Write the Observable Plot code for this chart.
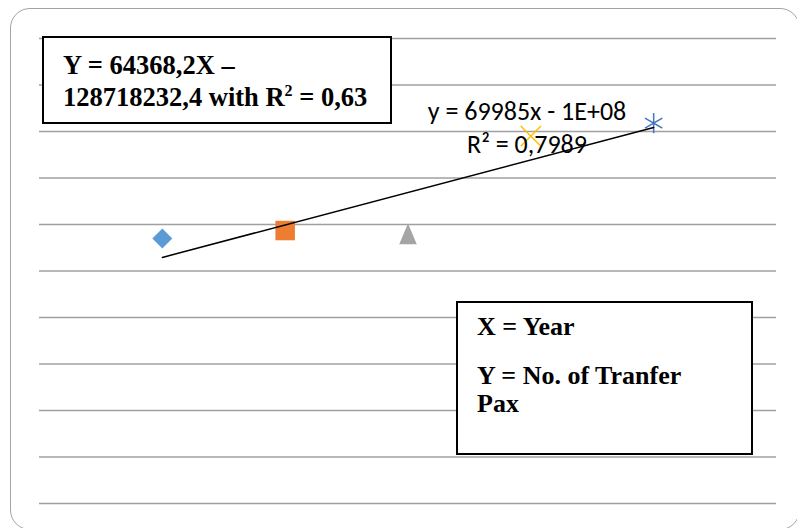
<!DOCTYPE html>
<html>
<head>
<meta charset="utf-8">
<script src="https://cdn.jsdelivr.net/npm/d3@7"></script>
<script src="https://cdn.jsdelivr.net/npm/@observablehq/plot@0.6"></script>
<style>
  html, body { margin: 0; padding: 0; background: #fff; }
  #wrap { position: relative; width: 797px; height: 528px; overflow: hidden; }
  #frame { position: absolute; left: 10px; top: 8px; width: 790px; height: 522px;
           border: 1.3px solid #a3a3a3; border-radius: 20px; box-sizing: border-box; }
  #chart { position: absolute; left: 0; top: 0; }
  .box { position: absolute; background: #fff; border: 2px solid #000; box-sizing: border-box;
         font-family: "Liberation Serif", "Times New Roman", serif; font-weight: bold; color: #000; }
  #box1 { left: 42px; top: 36px; width: 350px; height: 88px; padding: 11px 0 0 19px;
          font-size: 26.5px; line-height: 32px; white-space: nowrap; }
  #box2 { left: 456px; top: 301px; width: 297px; height: 154px; padding: 10px 0 0 19px;
          font-size: 26px; line-height: 28px; white-space: nowrap; }
  #box2 p { margin: 0; }
  #box2 p + p { margin-top: 21px; }
  .sup { font-size: 16px; position: relative; top: -10px; line-height: 0; }
  #trend { position: absolute; left: 377px; top: 95px; width: 300px; text-align: center;
           font-family: "Carlito", "Lato", "Liberation Sans", sans-serif; font-size: 26px;
           line-height: 33px; color: #000; white-space: nowrap; }
</style>
</head>
<body>
<div id="wrap">
  <div id="frame"></div>
  <div id="chart"></div>
  <div id="trend">y = 69985x - 1E+08<br>R² = 0,7989</div>
  <div class="box" id="box1">Y = 64368,2X –<br>128718232,4 with R<span class="sup">2</span> = 0,63</div>
  <div class="box" id="box2"><p>X = Year</p><p>Y = No. of Tranfer<br>Pax</p></div>
</div>
<script>
// Data
const years = [2009, 2010, 2011, 2012, 2013];
const transferPax = [570000, 587000, 580000, 790000, 818000];
const seriesNames = ["2009", "2010", "2011", "2012", "2013"];
const markerColors = ["#5B9BD5", "#ED7D31", "#A5A5A5", "#FFC000", "#4472C4"];

// Excel-like isosceles triangle marker
const triangleTall = {
  draw(context, size) {
    const s = Math.sqrt(size);
    const w = 0.62 * s, h = 0.73 * s;
    context.moveTo(0, -h);
    context.lineTo(w, h);
    context.lineTo(-w, h);
    context.closePath();
  }
};
const markerStyles = [
  {symbol: "diamond2", r: 9, fill: markerColors[0]},
  {symbol: "square", r: 11, fill: markerColors[1]},
  {symbol: triangleTall, r: 8, fill: markerColors[2]},
  {symbol: "times", r: 9.2, stroke: markerColors[3], strokeWidth: 1.5, fill: "none"},
  {symbol: "asterisk", r: 9.5, stroke: markerColors[4], strokeWidth: 1.5, fill: "none"}
];

const data = years.map((year, i) => ({year, pax: transferPax[i], name: seriesNames[i]}));

const plot = Plot.plot({
  width: 797,
  height: 528,
  marginLeft: 39,
  marginRight: 21,
  marginTop: 38,
  marginBottom: 25,
  style: {background: "transparent", overflow: "visible"},
  x: {domain: [2008, 2014], axis: null},
  y: {domain: [0, 1000000], axis: null},
  marks: [
    Plot.gridY({ticks: 10, stroke: "#a0a0a0", strokeOpacity: 1, strokeWidth: 1.4}),
    ...data.map((d, i) => Plot.dot([d], {x: "year", y: "pax", ...markerStyles[i]})),
    Plot.linearRegressionY(data, {x: "year", y: "pax", ci: 0, stroke: "#000", strokeWidth: 1.5})
  ]
});
document.getElementById("chart").appendChild(plot);
</script>
</body>
</html>
